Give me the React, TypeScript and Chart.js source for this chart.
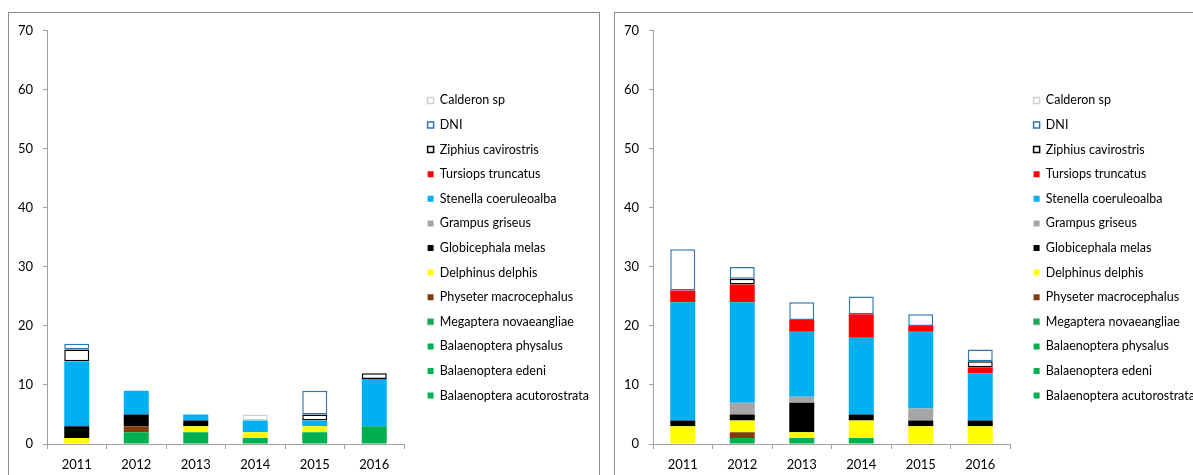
import React, { useEffect, useRef } from 'react';
import { Chart, registerables } from 'chart.js';

Chart.register(...registerables);

// ---------- data ----------
const years = ['2011', '2012', '2013', '2014', '2015', '2016'];
const yTicks = [0, 10, 20, 30, 40, 50, 60, 70];

// stacking order: bottom -> top
const speciesNames = [
  'Balaenoptera acutorostrata',
  'Balaenoptera edeni',
  'Balaenoptera physalus',
  'Megaptera novaeangliae',
  'Physeter macrocephalus',
  'Delphinus delphis',
  'Globicephala melas',
  'Grampus griseus',
  'Stenella coeruleoalba',
  'Tursiops truncatus',
  'Ziphius cavirostris',
  'DNI',
  'Calderon sp',
];

// left panel
const leftAcutorostrata = [0, 0, 0, 0, 0, 0];
const leftEdeni = [0, 0, 0, 0, 0, 0];
const leftPhysalus = [0, 2, 2, 1, 2, 3];
const leftMegaptera = [0, 0, 0, 0, 0, 0];
const leftPhyseter = [0, 1, 0, 0, 0, 0];
const leftDelphinus = [1, 0, 1, 1, 1, 0];
const leftGlobicephala = [2, 2, 1, 0, 0, 0];
const leftGrampus = [0, 0, 0, 0, 0, 0];
const leftStenella = [11, 4, 1, 2, 1, 8];
const leftTursiops = [0, 0, 0, 0, 0, 0];
const leftZiphius = [2, 0, 0, 0, 1, 1];
const leftDNI = [1, 0, 0, 0, 4, 0];
const leftCalderon = [0, 0, 0, 1, 0, 0];

// right panel
const rightAcutorostrata = [0, 0, 0, 0, 0, 0];
const rightEdeni = [0, 0, 0, 0, 0, 0];
const rightPhysalus = [0, 1, 1, 1, 0, 0];
const rightMegaptera = [0, 0, 0, 0, 0, 0];
const rightPhyseter = [0, 1, 0, 0, 0, 0];
const rightDelphinus = [3, 2, 1, 3, 3, 3];
const rightGlobicephala = [1, 1, 5, 1, 1, 1];
const rightGrampus = [0, 2, 1, 0, 2, 0];
const rightStenella = [20, 17, 11, 13, 13, 8];
const rightTursiops = [2, 3, 2, 4, 1, 1];
const rightZiphius = [0, 1, 0, 0, 0, 1];
const rightDNI = [7, 2, 3, 3, 2, 2];
const rightCalderon = [0, 0, 0, 0, 0, 0];

const leftSeries = [
  leftAcutorostrata, leftEdeni, leftPhysalus, leftMegaptera, leftPhyseter, leftDelphinus,
  leftGlobicephala, leftGrampus, leftStenella, leftTursiops, leftZiphius, leftDNI, leftCalderon,
];
const rightSeries = [
  rightAcutorostrata, rightEdeni, rightPhysalus, rightMegaptera, rightPhyseter, rightDelphinus,
  rightGlobicephala, rightGrampus, rightStenella, rightTursiops, rightZiphius, rightDNI, rightCalderon,
];

// ---------- styles ----------
const fills = [
  '#00B050', '#00B050', '#00B050', '#00B050', '#843C0C', '#FFFF00',
  '#000000', '#A6A6A6', '#00B0F0', '#FF0000', '#FFFFFF', '#FFFFFF', '#FFFFFF',
];
const borders = [
  '#00B050', '#00B050', '#00B050', '#8FAF9A', '#843C0C', '#FFFF00',
  '#000000', '#A6A6A6', '#00B0F0', '#FF0000', '#000000', '#2E75B6', '#D0D0D0',
];
const borderWidths = [0, 0, 0, 1, 0, 0, 0, 0, 0, 0, 1.5, 1.5, 1.5];

const FONT = 'Lato, "Open Sans", sans-serif';
const AXIS = '#A0A0A0';
const LEGEND_FONT_SIZE = 12.5;
const LEGEND_PAD = 12.1;
const BOX = 6;
const CANVAS_W = 600;
const CANVAS_H = 470;
const LEGEND_LEFT = 406.5; // canvas x where legend box starts

function legendNaturalWidth(): number {
  const c = document.createElement('canvas');
  const ctx = c.getContext('2d')!;
  ctx.font = `${LEGEND_FONT_SIZE}px ${FONT}`;
  let w = 0;
  for (const n of speciesNames) w = Math.max(w, ctx.measureText(n).width);
  return LEGEND_PAD + BOX + LEGEND_FONT_SIZE / 2 + w + 10;
}

function Panel({ series, left }: { series: number[][]; left: number }) {
  const ref = useRef<HTMLCanvasElement | null>(null);
  useEffect(() => {
    if (!ref.current) return;
    const padRight = Math.max(0, CANVAS_W - LEGEND_LEFT - legendNaturalWidth());
    const chart = new Chart(ref.current, {
      type: 'bar',
      data: {
        labels: years,
        datasets: speciesNames.map((name, i) => ({
          label: name,
          data: series[i],
          backgroundColor: fills[i],
          borderColor: borders[i],
          borderWidth: borderWidths[i],
          borderSkipped: false,
          barPercentage: 0.42,
          categoryPercentage: 1,
        })),
      },
      options: {
        responsive: false,
        animation: false,
        devicePixelRatio: 1,
        events: [],
        layout: { padding: { left: 8, top: 15, right: padRight, bottom: 0 } },
        font: { family: FONT },
        scales: {
          x: {
            stacked: true,
            grid: { display: true, offset: true, drawOnChartArea: false, tickLength: 5, color: AXIS },
            border: { display: true, color: AXIS },
            ticks: { color: '#000', font: { family: FONT, size: 13 }, padding: 8 },
            afterFit: (s: any) => { s.height = 39; },
          },
          y: {
            stacked: true,
            min: yTicks[0],
            max: yTicks[yTicks.length - 1],
            grid: { display: true, drawOnChartArea: false, tickLength: 4, color: AXIS },
            border: { display: true, color: AXIS },
            ticks: { stepSize: 10, color: '#000', font: { family: FONT, size: 13 }, padding: 10 },
            afterFit: (s: any) => { s.width = 30; },
          },
          gap: {
            type: 'linear',
            position: 'right',
            display: true,
            grid: { display: false },
            border: { display: false },
            ticks: { display: false },
            afterFit: (s: any) => { s.width = 11.5; },
          },
        } as any,
        plugins: {
          tooltip: { enabled: false },
          legend: {
            position: 'right',
            reverse: true,
            fullSize: false,
            maxWidth: 1000,
            title: { display: true, text: '', font: { size: 12, lineHeight: 1.2 }, padding: { top: 3.4, bottom: 3.4 } },
            labels: {
              boxWidth: BOX,
              boxHeight: BOX,
              padding: LEGEND_PAD,
              color: '#000',
              font: { family: FONT, size: LEGEND_FONT_SIZE },
            },
          },
        },
      },
    } as any);
    return () => chart.destroy();
  }, [series]);

  return (
    <div
      style={{
        position: 'absolute',
        left,
        top: 12,
        width: 592,
        height: 520,
        border: '1px solid #8C8C8C',
        boxSizing: 'border-box',
        background: '#fff',
        overflow: 'hidden',
      }}
    >
      <canvas
        ref={ref}
        width={CANVAS_W}
        height={CANVAS_H}
        style={{ display: 'block', width: CANVAS_W, height: CANVAS_H }}
      />
    </div>
  );
}

export default function App() {
  return (
    <div style={{ position: 'fixed', left: 0, top: 0, right: 0, bottom: 0, overflow: 'hidden', background: '#fff' }}>
      <Panel series={leftSeries} left={8} />
      <Panel series={rightSeries} left={614} />
    </div>
  );
}
